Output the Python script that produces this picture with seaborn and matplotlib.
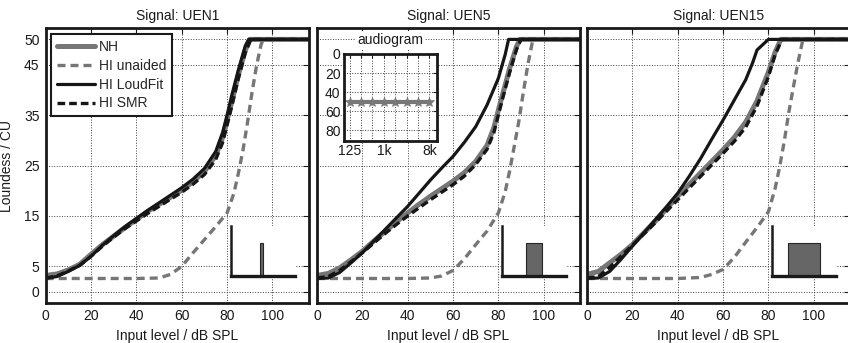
import numpy as np
import pandas as pd
import matplotlib
matplotlib.use("Agg")
import matplotlib.pyplot as plt
import seaborn as sns

# ---------------- data ----------------
signals = ["UEN1", "UEN5", "UEN15"]
series_names = ["NH", "HI unaided", "HI LoudFit", "HI SMR"]

# UEN1
nh_uen1_x = [0, 5, 10, 15, 20, 25, 30, 35, 40, 45, 50, 55, 60, 65, 70, 75, 78, 80, 82, 85, 88, 90, 116]
nh_uen1_y = [3.2, 3.5, 4.3, 5.4, 7.4, 9.3, 11.0, 12.7, 14.3, 15.9, 17.3, 18.7, 20.1, 21.8, 23.8, 27.0, 30.5, 34.0, 37.5, 43.0, 47.8, 50, 50]
lf_uen1_x = [0, 5, 10, 15, 20, 25, 30, 35, 40, 45, 50, 55, 60, 65, 70, 75, 78, 80, 82, 85, 88, 89.5, 116]
lf_uen1_y = [2.6, 3.0, 4.0, 5.2, 7.0, 9.2, 11.1, 12.9, 14.5, 16.1, 17.6, 19.1, 20.6, 22.3, 24.4, 27.8, 31.5, 35.0, 38.8, 44.0, 48.7, 50, 50]
smr_uen1_x = [0, 5, 10, 15, 20, 25, 30, 35, 40, 45, 50, 55, 60, 65, 70, 75, 78, 80, 82, 85, 88, 90.5, 116]
smr_uen1_y = [2.7, 3.1, 4.1, 5.2, 7.0, 9.0, 10.8, 12.5, 14.0, 15.5, 16.9, 18.3, 19.7, 21.3, 23.2, 26.2, 29.5, 33.0, 36.6, 42.3, 47.3, 50, 50]

# UEN5
nh_uen5_x = [0, 5, 10, 15, 20, 25, 30, 35, 40, 45, 50, 55, 60, 65, 70, 75, 78, 80, 82, 85, 88, 89.5, 116]
nh_uen5_y = [3.2, 3.6, 4.7, 6.3, 8.0, 10.0, 11.9, 13.8, 15.6, 17.3, 18.9, 20.4, 21.9, 23.6, 25.8, 29.0, 32.5, 36.0, 39.3, 44.3, 48.6, 50, 50]
lf_uen5_x = [0, 5, 10, 15, 20, 25, 30, 35, 40, 45, 50, 55, 60, 65, 70, 75, 80, 83, 84.5, 116]
lf_uen5_y = [2.6, 2.7, 3.8, 5.7, 7.7, 10.0, 12.3, 14.6, 16.9, 19.5, 22.1, 24.5, 26.8, 29.6, 32.7, 37.0, 42.3, 47.0, 50, 50]
smr_uen5_x = [0, 5, 10, 15, 20, 25, 30, 35, 40, 45, 50, 55, 60, 65, 70, 75, 78, 80, 82, 85, 88, 90, 116]
smr_uen5_y = [2.7, 3.0, 4.2, 5.9, 7.7, 9.6, 11.5, 13.3, 15.0, 16.6, 18.2, 19.7, 21.2, 22.9, 25.2, 28.2, 31.5, 35.0, 38.5, 43.5, 48.0, 50, 50]

# UEN15
nh_uen15_x = [0, 5, 10, 15, 20, 25, 30, 35, 40, 45, 50, 55, 60, 65, 70, 75, 80, 83, 85.5, 116]
nh_uen15_y = [3.4, 4.0, 5.7, 7.4, 9.3, 11.6, 13.9, 16.4, 18.9, 21.2, 23.5, 25.8, 28.1, 30.6, 33.6, 37.8, 43.5, 47.5, 50, 50]
lf_uen15_x = [0, 5, 10, 15, 20, 25, 30, 35, 40, 45, 50, 55, 60, 65, 70, 73, 75, 80, 116]
lf_uen15_y = [2.6, 2.7, 4.0, 6.4, 9.0, 11.6, 14.2, 16.8, 19.5, 22.8, 26.3, 30.2, 34.0, 38.0, 42.0, 45.3, 47.9, 50, 50]
smr_uen15_x = [0, 5, 10, 15, 20, 25, 30, 35, 40, 45, 50, 55, 60, 65, 70, 75, 80, 83, 86, 116]
smr_uen15_y = [2.7, 3.0, 4.8, 7.0, 9.2, 11.4, 13.6, 15.9, 18.2, 20.5, 22.8, 25.1, 27.4, 29.8, 32.6, 36.8, 42.6, 47.0, 50, 50]

# HI unaided (common level grid)
un_x = [0, 10, 20, 30, 40, 50, 55, 60, 65, 70, 75, 80, 83, 85, 87, 89, 91, 93, 95, 96, 116]
un_uen1_y = [2.6, 2.6, 2.6, 2.6, 2.6, 2.7, 3.4, 5.0, 7.7, 10.3, 12.9, 15.6, 19.5, 23.5, 28.0, 33.5, 39.5, 44.8, 49.0, 50, 50]
un_uen5_y = [2.6, 2.6, 2.6, 2.6, 2.6, 2.7, 3.1, 4.2, 6.5, 9.3, 12.0, 15.6, 19.8, 24.0, 28.8, 33.7, 39.5, 45.0, 49.5, 50, 50]
un_uen15_y = [2.6, 2.6, 2.6, 2.6, 2.6, 2.8, 3.4, 4.4, 6.8, 9.8, 12.7, 15.8, 20.5, 24.8, 29.8, 35.5, 40.5, 45.3, 49.5, 50, 50]

# signal spectra (band edges, arbitrary band scale 0..24, level in % of inset)
spec_lo = [10.9, 8.9, 5.8]
spec_hi = [12.1, 14.9, 17.9]
spec_level = [66, 66, 66]

# audiogram
aud_freq_labels = ["125", "250", "500", "1k", "2k", "4k", "6k", "8k"]
aud_hl = [50, 50, 50, 50, 50, 50, 50, 50]
aud_shown_labels = ["125", "1k", "8k"]

x_ticks = [0, 20, 40, 60, 80, 100]
y_ticks = [0, 5, 15, 25, 35, 45, 50]

# ---------------- assemble ----------------
curves = {
    "UEN1": [(nh_uen1_x, nh_uen1_y), (un_x, un_uen1_y), (lf_uen1_x, lf_uen1_y), (smr_uen1_x, smr_uen1_y)],
    "UEN5": [(nh_uen5_x, nh_uen5_y), (un_x, un_uen5_y), (lf_uen5_x, lf_uen5_y), (smr_uen5_x, smr_uen5_y)],
    "UEN15": [(nh_uen15_x, nh_uen15_y), (un_x, un_uen15_y), (lf_uen15_x, lf_uen15_y), (smr_uen15_x, smr_uen15_y)],
}

styles = {
    "NH": dict(color="#767676", lw=3.6, linestyle="-"),
    "HI unaided": dict(color="#767676", lw=2.4, linestyle=(0, (2.4, 1.5))),
    "HI LoudFit": dict(color="#161616", lw=2.3, linestyle="-"),
    "HI SMR": dict(color="#161616", lw=2.4, linestyle=(0, (2.3, 1.2))),
}

sns.set_theme(style="white")
plt.rcParams["font.family"] = ["Liberation Sans", "DejaVu Sans"]
plt.rcParams["font.size"] = 10

W, H = 848, 343
fig = plt.figure(figsize=(W / 100, H / 100), dpi=100)

ax_left_px = [45.7, 317.0, 587.0]
ax_w_px = 263.0
ax_top_px, ax_bot_px = 28.3, 302.7

grid_kw = dict(color="0.25", linestyle=":", linewidth=0.7)

axes = []
for i, sig in enumerate(signals):
    ax = fig.add_axes([ax_left_px[i] / W, (H - ax_bot_px) / H, ax_w_px / W, (ax_bot_px - ax_top_px) / H])
    axes.append(ax)
    for name, (xs, ys) in zip(series_names, curves[sig]):
        sns.lineplot(x=xs, y=ys, ax=ax, label=name, legend=False, **styles[name])
    ax.set_xlim(0, 116)
    ax.set_ylim(-2.2, 52.2)
    ax.set_xticks(x_ticks)
    ax.set_yticks(y_ticks)
    ax.grid(True, **grid_kw)
    ax.tick_params(direction="in", length=4, width=0.8, top=True, right=True,
                   labelsize=10, pad=4.5, colors="#1a1a1a")
    for sp in ax.spines.values():
        sp.set_linewidth(2.0)
        sp.set_color("#1a1a1a")
        sp.set_visible(True)
    ax.set_title(f"Signal: {sig}", fontsize=10, pad=6, color="#1a1a1a")
    ax.set_xlabel("Input level / dB SPL", fontsize=10, labelpad=4, color="#1a1a1a")
    if i == 0:
        ax.set_ylabel("Loundess / CU", fontsize=10, labelpad=7, color="#1a1a1a")
    else:
        ax.set_yticklabels([])
        ax.set_ylabel("")

    # spectrum inset
    ins = ax.inset_axes([0.705, 0.0973, 0.2433, 0.1833])
    ins.set_facecolor("white")
    ins.bar([spec_lo[i]], [spec_level[i]], width=[spec_hi[i] - spec_lo[i]], align="edge",
            color="#666666", edgecolor="#262626", linewidth=0.8)
    ins.set_xlim(0, 24)
    ins.set_ylim(0, 100)
    ins.set_xticks([])
    ins.set_yticks([])
    for k in ["top", "right"]:
        ins.spines[k].set_visible(False)
    for k in ["left", "bottom"]:
        ins.spines[k].set_visible(True)
        ins.spines[k].set_color("#1a1a1a")
    ins.spines["left"].set_linewidth(1.8)
    ins.spines["bottom"].set_linewidth(2.4)

# legend on first panel
leg = axes[0].legend(loc="upper left", fontsize=10, frameon=True, fancybox=False,
                     borderaxespad=0.4, handlelength=2.75, handletextpad=0.25,
                     labelspacing=0.35, borderpad=0.43, framealpha=1)
leg.get_frame().set_edgecolor("#1a1a1a")
leg.get_frame().set_linewidth(1.5)

# audiogram inset on second panel
aud = axes[1].inset_axes([0.1027, 0.5904, 0.3525, 0.316])
aud.set_facecolor("white")
aud_idx = list(range(len(aud_freq_labels)))
sns.lineplot(x=aud_idx, y=aud_hl, ax=aud, color="#777777", lw=3.0, marker="*",
             markersize=7.5, markeredgecolor="#777777", markeredgewidth=0.5, legend=False)
aud.set_xlim(-0.5, 7.65)
aud.set_ylim(91, 0)
aud.set_yticks([0, 20, 40, 60, 80])
aud.set_xticks(aud_idx)
aud.set_xticklabels([lab if lab in aud_shown_labels else "" for lab in aud_freq_labels])
aud.grid(True, **grid_kw)
aud.tick_params(direction="in", length=3, width=0.8, labelsize=10, pad=2.5,
                top=True, right=True, colors="#1a1a1a")
for sp in aud.spines.values():
    sp.set_visible(True)
    sp.set_linewidth(2.0)
    sp.set_color("#1a1a1a")
aud.set_xlabel("")
aud.set_ylabel("")
aud.set_title("audiogram", fontsize=10, pad=7, color="#1a1a1a",
              bbox=dict(facecolor="white", edgecolor="none", pad=1.5))

fig.savefig("out.png", dpi=100)
